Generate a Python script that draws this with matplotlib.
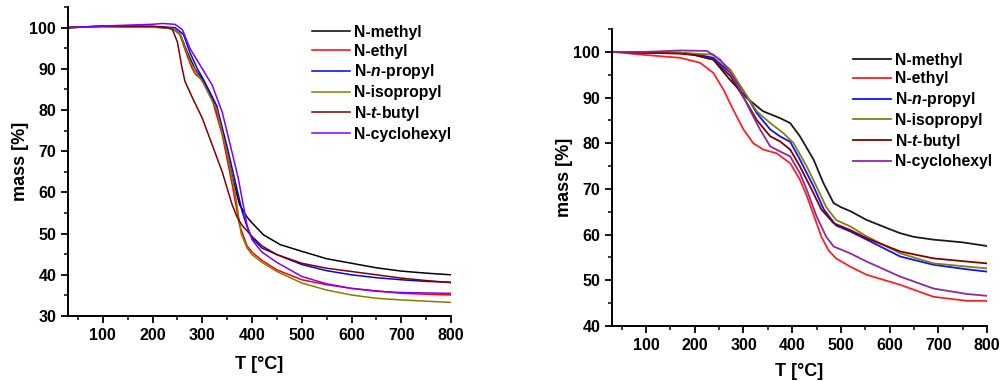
import matplotlib
matplotlib.use("Agg")
import matplotlib.pyplot as plt
from matplotlib.ticker import MultipleLocator

plt.rcParams['font.family'] = ['Liberation Sans', 'DejaVu Sans']
plt.rcParams['font.weight'] = 'bold'
plt.rcParams['mathtext.fontset'] = 'custom'
plt.rcParams['mathtext.it'] = 'Liberation Sans:italic:bold'
plt.rcParams['mathtext.rm'] = 'Liberation Sans:bold'

labels = ["N-methyl", "N-ethyl", "N-$n$-propyl", "N-isopropyl", "N-$t$-butyl", "N-cyclohexyl"]
colors_left = ["#000000", "#ff0000", "#0000ff", "#808000", "#800000", "#8000ff"]
colors_right = ["#1a1a1a", "#ff2020", "#1010ff", "#808010", "#800000", "#8a2aa0"]

# left panel (noisy raw TGA curves)
l_methyl_T = [30, 100, 200, 240, 255, 270, 285, 300, 320, 340, 360, 375, 390, 400, 423, 457, 500, 550, 600, 650, 700, 750, 800]
l_methyl_m = [100, 100.3, 100.2, 99.8, 98.5, 94, 90, 87.5, 83, 75, 64, 57, 54, 52.6, 49.7, 47.3, 45.7, 43.9, 42.8, 41.7, 40.9, 40.4, 40.0]
l_ethyl_T = [30, 100, 200, 240, 255, 270, 280, 287, 300, 320, 340, 360, 375, 390, 400, 420, 450, 500, 550, 600, 650, 700, 750, 800]
l_ethyl_m = [100, 100.3, 100.2, 99.8, 98.3, 93, 90, 88.6, 87.3, 82.5, 74, 62, 52, 47, 45.5, 43.5, 41.2, 38.8, 37.6, 36.7, 36.1, 35.5, 35.3, 35.1]
l_propyl_T = [30, 100, 200, 245, 262, 275, 290, 302, 329, 350, 366, 380, 392, 400, 420, 450, 500, 550, 600, 650, 700, 750, 800]
l_propyl_m = [100, 100.3, 100.3, 100, 98.4, 94, 90, 87.5, 81, 71, 62.7, 55.4, 51, 48.9, 46.5, 44.9, 42.5, 41.0, 40.0, 39.3, 38.8, 38.4, 38.2]
l_iso_T = [30, 100, 200, 240, 256, 270, 279, 302, 329, 349, 366, 378, 390, 400, 420, 450, 500, 550, 600, 650, 700, 750, 800]
l_iso_m = [100, 100.2, 100.1, 99.8, 98.3, 93.5, 91, 86.5, 80, 70, 60, 50, 46.5, 44.9, 43, 40.8, 38.0, 36.3, 35.1, 34.3, 33.9, 33.6, 33.3]
l_butyl_T = [30, 100, 200, 230, 240, 250, 258, 265, 280, 300, 320, 340, 360, 370, 380, 400, 420, 450, 500, 550, 600, 650, 700, 750, 800]
l_butyl_m = [100, 100.4, 100.3, 100, 99.5, 96.5, 91, 87, 83, 78, 71.5, 65, 57, 54, 52, 49.3, 47, 44.9, 42.8, 41.6, 40.8, 40.0, 39.2, 38.6, 38.1]
l_cyclo_T = [30, 100, 200, 220, 245, 260, 275, 290, 300, 320, 340, 356, 372, 390, 400, 420, 450, 500, 550, 600, 650, 700, 750, 800]
l_cyclo_m = [100, 100.4, 100.8, 101, 100.8, 99.5, 95, 92, 90, 86, 79.5, 71.6, 63.6, 52, 48.5, 45.5, 43.0, 39.6, 37.8, 36.7, 36.0, 35.7, 35.6, 35.5]

# right panel (smooth curves)
r_methyl_T = [30, 100, 170, 200, 238, 272, 307, 340, 375, 396, 416, 444, 464, 485, 500, 520, 553, 600, 622, 650, 690, 750, 800]
r_methyl_m = [100, 99.8, 99.8, 99.3, 98.3, 93.9, 89.9, 87, 85.5, 84.4, 81.5, 76.4, 71.3, 66.9, 66, 65.1, 63.2, 61.2, 60.3, 59.5, 58.9, 58.3, 57.5]
r_ethyl_T = [30, 100, 170, 211, 238, 259, 279, 300, 320, 341, 368, 396, 416, 430, 445, 460, 475, 490, 519, 553, 622, 690, 759, 800]
r_ethyl_m = [100, 99.3, 98.7, 97.6, 95.4, 91.7, 87.3, 83, 80, 78.6, 77.8, 75.6, 72, 68.5, 64, 59.5, 56.5, 54.8, 53, 51.2, 49, 46.4, 45.5, 45.5]
r_propyl_T = [30, 100, 170, 200, 238, 273, 307, 327, 355, 375, 396, 416, 444, 465, 490, 519, 553, 622, 690, 759, 800]
r_propyl_m = [100, 99.8, 99.8, 99.5, 98.7, 95.4, 90.3, 86.6, 83, 81.5, 80.3, 76.4, 70.5, 65.5, 62, 60.7, 58.9, 55.2, 53.4, 52.4, 51.9]
r_iso_T = [30, 100, 170, 200, 238, 273, 307, 327, 355, 382, 403, 430, 450, 470, 490, 519, 553, 622, 690, 759, 800]
r_iso_m = [100, 99.9, 99.8, 99.6, 99.4, 96.1, 90.3, 87, 84.4, 82.2, 80, 74.9, 70.5, 66, 63.2, 61.8, 59.6, 55.9, 53.7, 53, 52.6]
r_butyl_T = [30, 100, 170, 200, 238, 273, 307, 327, 355, 375, 396, 416, 437, 460, 485, 519, 553, 622, 690, 759, 800]
r_butyl_m = [100, 99.8, 99.6, 99.3, 98.3, 94.7, 88.8, 85.1, 81.5, 80.4, 78.6, 74.9, 70.5, 65.5, 62.5, 61, 59.2, 56.3, 54.8, 54.1, 53.7]
r_cyclo_T = [30, 100, 170, 225, 252, 273, 293, 313, 334, 355, 375, 396, 416, 430, 450, 470, 485, 519, 553, 622, 690, 759, 800]
r_cyclo_m = [100, 100, 100.3, 100.2, 98.3, 95.4, 91.7, 87.3, 83, 79.3, 78.2, 77.1, 73.4, 69.8, 64, 59.5, 57.4, 55.9, 54.1, 50.8, 48.2, 47, 46.6]

left_series = [(l_methyl_T, l_methyl_m), (l_ethyl_T, l_ethyl_m), (l_propyl_T, l_propyl_m),
               (l_iso_T, l_iso_m), (l_butyl_T, l_butyl_m), (l_cyclo_T, l_cyclo_m)]
right_series = [(r_methyl_T, r_methyl_m), (r_ethyl_T, r_ethyl_m), (r_propyl_T, r_propyl_m),
                (r_iso_T, r_iso_m), (r_butyl_T, r_butyl_m), (r_cyclo_T, r_cyclo_m)]


def style_axes(ax, ymin, xpad):
    ax.set_xlim(30, 800)
    ax.set_ylim(ymin, 105)
    ax.xaxis.set_major_locator(MultipleLocator(100))
    ax.xaxis.set_minor_locator(MultipleLocator(50))
    ax.yaxis.set_major_locator(MultipleLocator(10))
    ax.yaxis.set_minor_locator(MultipleLocator(5))
    ax.set_xticks(range(100, 801, 100))
    ax.spines['top'].set_visible(False)
    ax.spines['right'].set_visible(False)
    for s in ('left', 'bottom'):
        ax.spines[s].set_linewidth(1.4)
    ax.tick_params(which='major', direction='out', length=5, width=1.3, labelsize=11.5)
    ax.tick_params(which='minor', direction='out', length=3, width=1.1)
    for lab in ax.get_xticklabels() + ax.get_yticklabels():
        lab.set_fontweight('bold')
    ax.set_xlabel("T [°C]", fontsize=13, fontweight='bold', labelpad=xpad)
    ax.set_ylabel("mass [%]", fontsize=13, fontweight='bold', labelpad=0)


fig = plt.figure(figsize=(10, 3.81), dpi=100)
ax1 = fig.add_axes([0.068, 0.1706, 0.383, 0.811])
ax2 = fig.add_axes([0.612, 0.1444, 0.375, 0.7795])

for (T, m), c, lab in zip(left_series, colors_left, labels):
    ax1.plot(T, m, color=c, lw=1.1, label=lab)
for (T, m), c, lab in zip(right_series, colors_right, labels):
    ax2.plot(T, m, color=c, lw=1.3, label=lab)

style_axes(ax1, 30, 9.5)
style_axes(ax2, 40, 7.5)

leg_kw = dict(frameon=False, borderpad=0, borderaxespad=0, handlelength=2.4,
              handletextpad=0.3, labelspacing=0.24, loc='upper left',
              prop={'weight': 'bold', 'size': 11.3})
ax1.legend(bbox_to_anchor=(0.312, 0.935), bbox_transform=fig.transFigure, **leg_kw)
ax2.legend(bbox_to_anchor=(0.853, 0.862), bbox_transform=fig.transFigure, **leg_kw)

fig.savefig("out.png", dpi=100)
